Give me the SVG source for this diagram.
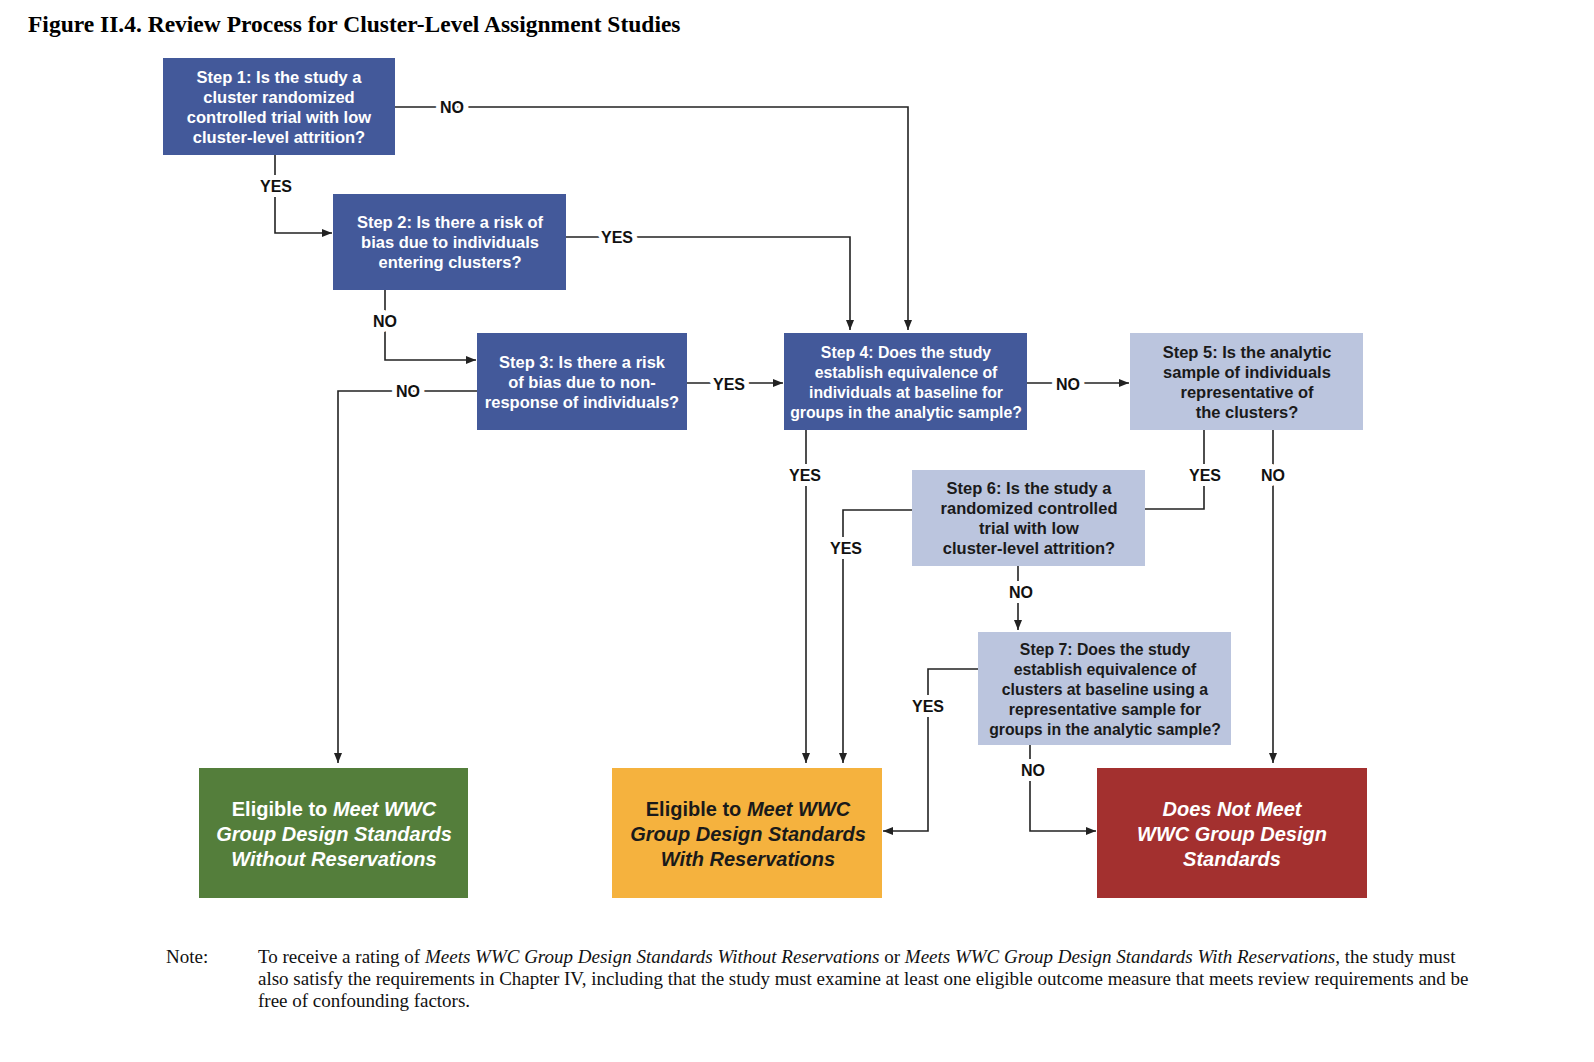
<svg xmlns="http://www.w3.org/2000/svg" width="1594" height="1062" viewBox="0 0 1594 1062">
<style>
.dk{fill:#43599a}
.lt{fill:#bbc5de}
.t{font-family:"Liberation Sans",Arial,sans-serif;font-weight:bold;font-size:16.5px;text-anchor:middle}
.s{font-size:15.8px}
.w{fill:#fff}
.b{fill:#1a1a1a}
.o{font-family:"Liberation Sans",Arial,sans-serif;font-weight:bold;font-size:20px;text-anchor:middle}
.i{font-style:italic}
.ln{fill:none;stroke:#222;stroke-width:1.6}
.lb{font-family:"Liberation Sans",Arial,sans-serif;font-weight:bold;font-size:16px;text-anchor:middle;fill:#111;stroke:#fff;stroke-width:10px;paint-order:stroke;stroke-linejoin:round}
.serif{font-family:"Liberation Serif","Times New Roman",serif}
</style>
<defs>
<marker id="ar" markerWidth="10" markerHeight="8" refX="10" refY="4" orient="auto" markerUnits="userSpaceOnUse">
<path d="M0,0 L10,4 L0,8 Z" fill="#222"/>
</marker>
</defs>
<rect width="1594" height="1062" fill="#fff"/>
<text x="28" y="32" class="serif" font-weight="bold" font-size="23.5" fill="#000">Figure II.4. Review Process for Cluster-Level Assignment Studies</text>

<g id="connectors">
<path class="ln" d="M395,107 H908 V330" marker-end="url(#ar)"/>
<path class="ln" d="M275,155 V233 H332" marker-end="url(#ar)"/>
<path class="ln" d="M566,237 H850 V330" marker-end="url(#ar)"/>
<path class="ln" d="M385,290 V360 H476" marker-end="url(#ar)"/>
<path class="ln" d="M477,391 H338 V763" marker-end="url(#ar)"/>
<path class="ln" d="M687,383 H783" marker-end="url(#ar)"/>
<path class="ln" d="M1027,383 H1129" marker-end="url(#ar)"/>
<path class="ln" d="M806,430 V763" marker-end="url(#ar)"/>
<path class="ln" d="M1204,430 V509 H1145"/>
<path class="ln" d="M1273,430 V763" marker-end="url(#ar)"/>
<path class="ln" d="M912,510 H843 V763" marker-end="url(#ar)"/>
<path class="ln" d="M1018,566 V630" marker-end="url(#ar)"/>
<path class="ln" d="M978,669 H928 V831 H883" marker-end="url(#ar)"/>
<path class="ln" d="M1030,745 V831 H1096" marker-end="url(#ar)"/>
<text class="lb" x="452" y="113">NO</text>
<text class="lb" x="276" y="192">YES</text>
<text class="lb" x="617" y="243">YES</text>
<text class="lb" x="385" y="327">NO</text>
<text class="lb" x="408" y="397">NO</text>
<text class="lb" x="729" y="390">YES</text>
<text class="lb" x="1068" y="390">NO</text>
<text class="lb" x="805" y="481">YES</text>
<text class="lb" x="1205" y="481">YES</text>
<text class="lb" x="1273" y="481">NO</text>
<text class="lb" x="846" y="554">YES</text>
<text class="lb" x="1021" y="598">NO</text>
<text class="lb" x="928" y="712">YES</text>
<text class="lb" x="1033" y="776">NO</text>
</g>

<g id="step1">
<rect class="dk" x="163" y="58" width="232" height="97"/>
<text class="t w"><tspan x="279" y="83">Step 1: Is the study a</tspan><tspan x="279" y="103">cluster randomized</tspan><tspan x="279" y="123">controlled trial with low</tspan><tspan x="279" y="143">cluster-level attrition?</tspan></text>
</g>
<g id="step2">
<rect class="dk" x="333" y="194" width="233" height="96"/>
<text class="t w"><tspan x="450" y="228">Step 2: Is there a risk of</tspan><tspan x="450" y="248">bias due to individuals</tspan><tspan x="450" y="268">entering clusters?</tspan></text>
</g>
<g id="step3">
<rect class="dk" x="477" y="333" width="210" height="97"/>
<text class="t w"><tspan x="582" y="368">Step 3: Is there a risk</tspan><tspan x="582" y="388">of bias due to non-</tspan><tspan x="582" y="408">response of individuals?</tspan></text>
</g>
<g id="step4">
<rect class="dk" x="784" y="333" width="243" height="97"/>
<text class="t s w"><tspan x="906" y="358">Step 4: Does the study</tspan><tspan x="906" y="378">establish equivalence of</tspan><tspan x="906" y="398">individuals at baseline for</tspan><tspan x="906" y="418">groups in the analytic sample?</tspan></text>
</g>
<g id="step5">
<rect class="lt" x="1130" y="333" width="233" height="97"/>
<text class="t b"><tspan x="1247" y="358">Step 5: Is the analytic</tspan><tspan x="1247" y="378">sample of individuals</tspan><tspan x="1247" y="398">representative of</tspan><tspan x="1247" y="418">the clusters?</tspan></text>
</g>
<g id="step6">
<rect class="lt" x="912" y="470" width="233" height="96"/>
<text class="t b"><tspan x="1029" y="494">Step 6: Is the study a</tspan><tspan x="1029" y="514">randomized controlled</tspan><tspan x="1029" y="534">trial with low</tspan><tspan x="1029" y="554">cluster-level attrition?</tspan></text>
</g>
<g id="step7">
<rect class="lt" x="978" y="632" width="253" height="113"/>
<text class="t s b"><tspan x="1105" y="655">Step 7: Does the study</tspan><tspan x="1105" y="675">establish equivalence of</tspan><tspan x="1105" y="695">clusters at baseline using a</tspan><tspan x="1105" y="715">representative sample for</tspan><tspan x="1105" y="735">groups in the analytic sample?</tspan></text>
</g>
<g id="out-without">
<rect x="199" y="768" width="269" height="130" fill="#547e3b"/>
<text class="o w"><tspan x="334" y="816">Eligible to <tspan class="i">Meet WWC</tspan></tspan><tspan x="334" y="841" class="i">Group Design Standards</tspan><tspan x="334" y="866" class="i">Without Reservations</tspan></text>
</g>
<g id="out-with">
<rect x="612" y="768" width="270" height="130" fill="#f5b23e"/>
<text class="o b"><tspan x="748" y="816">Eligible to <tspan class="i">Meet WWC</tspan></tspan><tspan x="748" y="841" class="i">Group Design Standards</tspan><tspan x="748" y="866" class="i">With Reservations</tspan></text>
</g>
<g id="out-not">
<rect x="1097" y="768" width="270" height="130" fill="#a3302f"/>
<text class="o w i"><tspan x="1232" y="816">Does Not Meet</tspan><tspan x="1232" y="841">WWC Group Design</tspan><tspan x="1232" y="866">Standards</tspan></text>
</g>

<g id="note" class="serif" font-size="19" fill="#111">
<text x="166" y="963">Note:</text>
<text x="258" y="963">To receive a rating of <tspan font-style="italic">Meets WWC Group Design Standards Without Reservations</tspan> or <tspan font-style="italic">Meets WWC Group Design Standards With Reservations</tspan>, the study must</text>
<text x="258" y="985">also satisfy the requirements in Chapter IV, including that the study must examine at least one eligible outcome measure that meets review requirements and be</text>
<text x="258" y="1007">free of confounding factors.</text>
</g>
</svg>
